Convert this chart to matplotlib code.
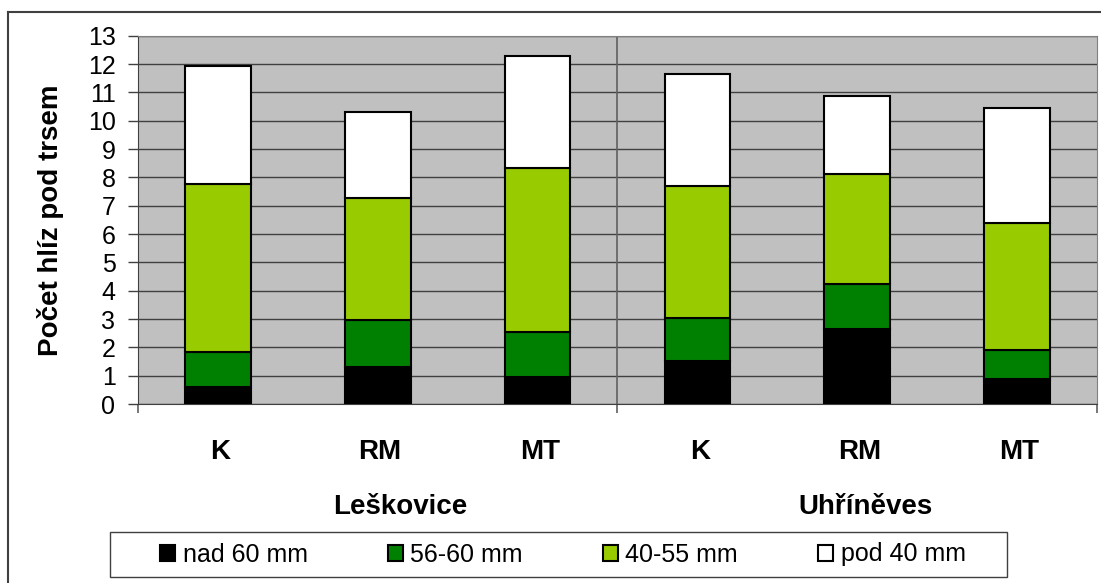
import matplotlib

matplotlib.use("Agg")

import matplotlib.pyplot as plt
import numpy as np
from matplotlib.patches import Rectangle

plt.rcParams["font.family"] = ["Liberation Sans", "DejaVu Sans"]

# Data
categories = ["K", "RM", "MT", "K", "RM", "MT"]
groups = ["Leškovice", "Uhříněves"]
series_names = ["nad 60 mm", "56-60 mm", "40-55 mm", "pod 40 mm"]
nad_60 = [0.61, 1.32, 0.96, 1.53, 2.66, 0.88]
mm_56_60 = [1.24, 1.65, 1.59, 1.52, 1.59, 1.03]
mm_40_55 = [5.92, 4.29, 5.79, 4.66, 3.87, 4.47]
pod_40 = [4.16, 3.04, 3.95, 3.95, 2.75, 4.07]
y_ticks = list(range(0, 14))

colors = ["#000000", "#008000", "#99CC00", "#FFFFFF"]

W, H = 1101, 583
fig = plt.figure(figsize=(W / 100, H / 100), dpi=100)
ax = fig.add_axes([138 / W, 1 - 404 / H, (1097 - 138) / W, (404 - 35.7) / H])
ax.set_facecolor("#C0C0C0")

x = np.arange(len(categories))
bottom = np.zeros(len(categories))
for name, vals, col in zip(series_names, [nad_60, mm_56_60, mm_40_55, pod_40], colors):
    ax.bar(x, vals, width=0.41, bottom=bottom, color=col, edgecolor="black",
           linewidth=1.5, label=name, zorder=3)
    bottom += np.array(vals)

ax.set_xlim(-0.5, len(categories) - 0.5)
ax.set_ylim(0, 13)
ax.set_yticks(y_ticks)
ax.tick_params(axis="y", labelsize=18, length=7.2, width=1, color="#404040", pad=9)
ax.yaxis.grid(True, color="#404040", linewidth=1, zorder=1)
ax.set_axisbelow(True)

# group separator ticks on the category axis
ax.set_xticks([-0.5, 2.5, 5.5])
ax.set_xticklabels([])
ax.tick_params(axis="x", length=6.5, width=1.2, color="#606060")
ax.axvline(2.5, color="#606060", linewidth=1.2, zorder=1)

for side in ["top", "right"]:
    ax.spines[side].set_color("#808080")
for side in ["left", "bottom"]:
    ax.spines[side].set_color("#404040")

for xi, lab in zip(x, categories):
    ax.text(xi + 0.015, -1.68, lab, ha="center", va="center", fontsize=20,
            fontweight="bold", clip_on=False)
for gx, g in zip([1.14, 4.05], groups):
    ax.text(gx, -3.65, g, ha="center", va="center", fontsize=20,
            fontweight="bold", clip_on=False)

fig.text(51 / W, 1 - 220 / H, "Počet hlíz pod trsem", rotation=90,
         ha="center", va="center", fontsize=20, fontweight="bold")

# outer chart frame (left and top edges visible)
fig.add_artist(plt.Line2D([8 / W, 8 / W], [0, 1 - 12 / H], color="#404040",
                          linewidth=1.5, transform=fig.transFigure))
fig.add_artist(plt.Line2D([8 / W, 1], [1 - 12 / H, 1 - 12 / H], color="#404040",
                          linewidth=1.5, transform=fig.transFigure))

# legend box
fig.add_artist(Rectangle((110 / W, 1 - 577 / H), (1007 - 110) / W, 45 / H,
                         transform=fig.transFigure, facecolor="white",
                         edgecolor="#404040", linewidth=1))
leg = fig.legend(loc="center", ncol=4,
                 bbox_to_anchor=(563 / W, 1 - 554.5 / H),
                 fontsize=18, frameon=False,
                 handlelength=0.6, handleheight=0.6, handletextpad=0.3,
                 columnspacing=3.2, borderaxespad=0, borderpad=0)

fig.savefig("out.png", dpi=100, facecolor="white")
